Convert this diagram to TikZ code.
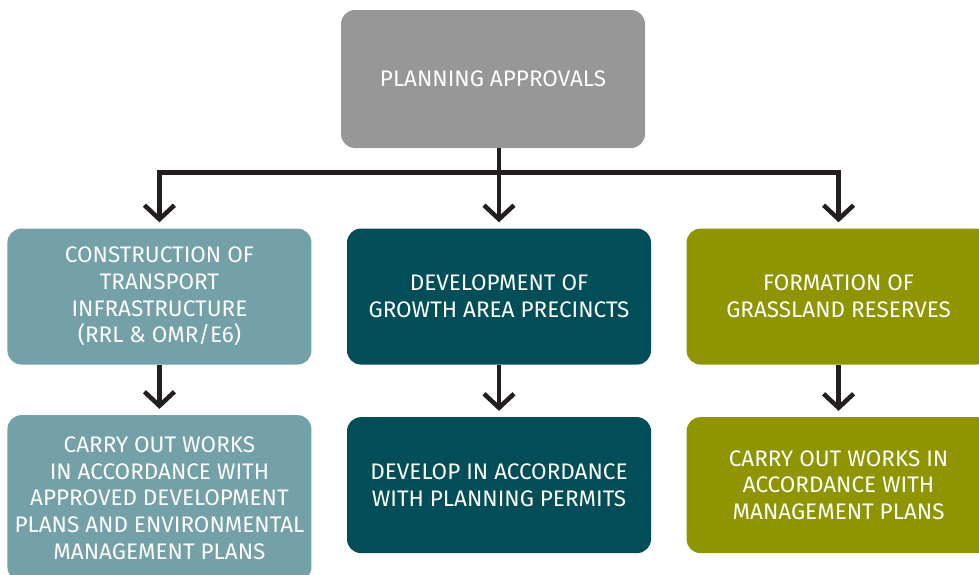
\documentclass[tikz,border=0pt]{standalone}
\usepackage{fontspec}
\setmainfont{Fira Sans}
\usetikzlibrary{positioning, arrows.meta}
\definecolor{approvalgrey}{HTML}{979797}
\definecolor{transportteal}{HTML}{74A0A7}
\definecolor{precinctteal}{HTML}{024E58}
\definecolor{grassolive}{HTML}{8E9500}
\definecolor{arrowblack}{HTML}{231F20}
\tikzstyle{box} = [rectangle, rounded corners=0.35cm, minimum width=7.6cm, minimum height=3.4cm, inner sep=0pt, align=center, text=white, font=\fontsize{16}{19}\selectfont]
\tikzstyle{approval} = [box, fill=approvalgrey, minimum height=3.45cm]
\tikzstyle{transport} = [box, fill=transportteal]
\tikzstyle{precinct} = [box, fill=precinctteal]
\tikzstyle{grassland} = [box, fill=grassolive]
\tikzstyle{arrow} = [arrowblack, line width=3.2pt, line join=miter, shorten >=0.15cm, -{Straight Barb[length=0.35cm, width=0.75cm]}]

\begin{document}
\begin{tikzpicture}[node distance=2cm]

\useasboundingbox (0,0) rectangle (24.475,-14.375);
\clip (0,0) rectangle (24.475,-14.375);

\node (approvals) [approval] at (12.325,-1.975) {PLANNING APPROVALS};
\node (growth) [precinct, below=2cm of approvals, xshift=0.15cm] {DEVELOPMENT OF\\GROWTH AREA PRECINCTS};
\node (infra) [transport, left=0.875cm of growth] {CONSTRUCTION OF\\TRANSPORT\\INFRASTRUCTURE\\(RRL \& OMR/E6)};
\node (reserves) [grassland, right=0.875cm of growth] {FORMATION OF\\GRASSLAND RESERVES};
\node (works) [transport, below=1.25cm of infra, minimum height=4.15cm] {CARRY OUT WORKS\\IN ACCORDANCE WITH\\APPROVED DEVELOPMENT\\PLANS AND ENVIRONMENTAL\\MANAGEMENT PLANS};
\node (permits) [precinct, below=1.3cm of growth] {DEVELOP IN ACCORDANCE\\WITH PLANNING PERMITS};
\node (management) [grassland, below=1.3cm of reserves] {CARRY OUT WORKS IN\\ACCORDANCE WITH\\MANAGEMENT PLANS};

\coordinate (split) at ([yshift=-0.6cm]approvals.south -| growth.north);

\draw [arrow] (approvals.south -| split) -- (growth);
\draw [arrow] (split) -| (infra);
\draw [arrow] (split) -| (reserves);
\draw [arrow] (infra) -- (works);
\draw [arrow] (growth) -- (permits);
\draw [arrow] (reserves) -- (management);

\end{tikzpicture}
\end{document}
